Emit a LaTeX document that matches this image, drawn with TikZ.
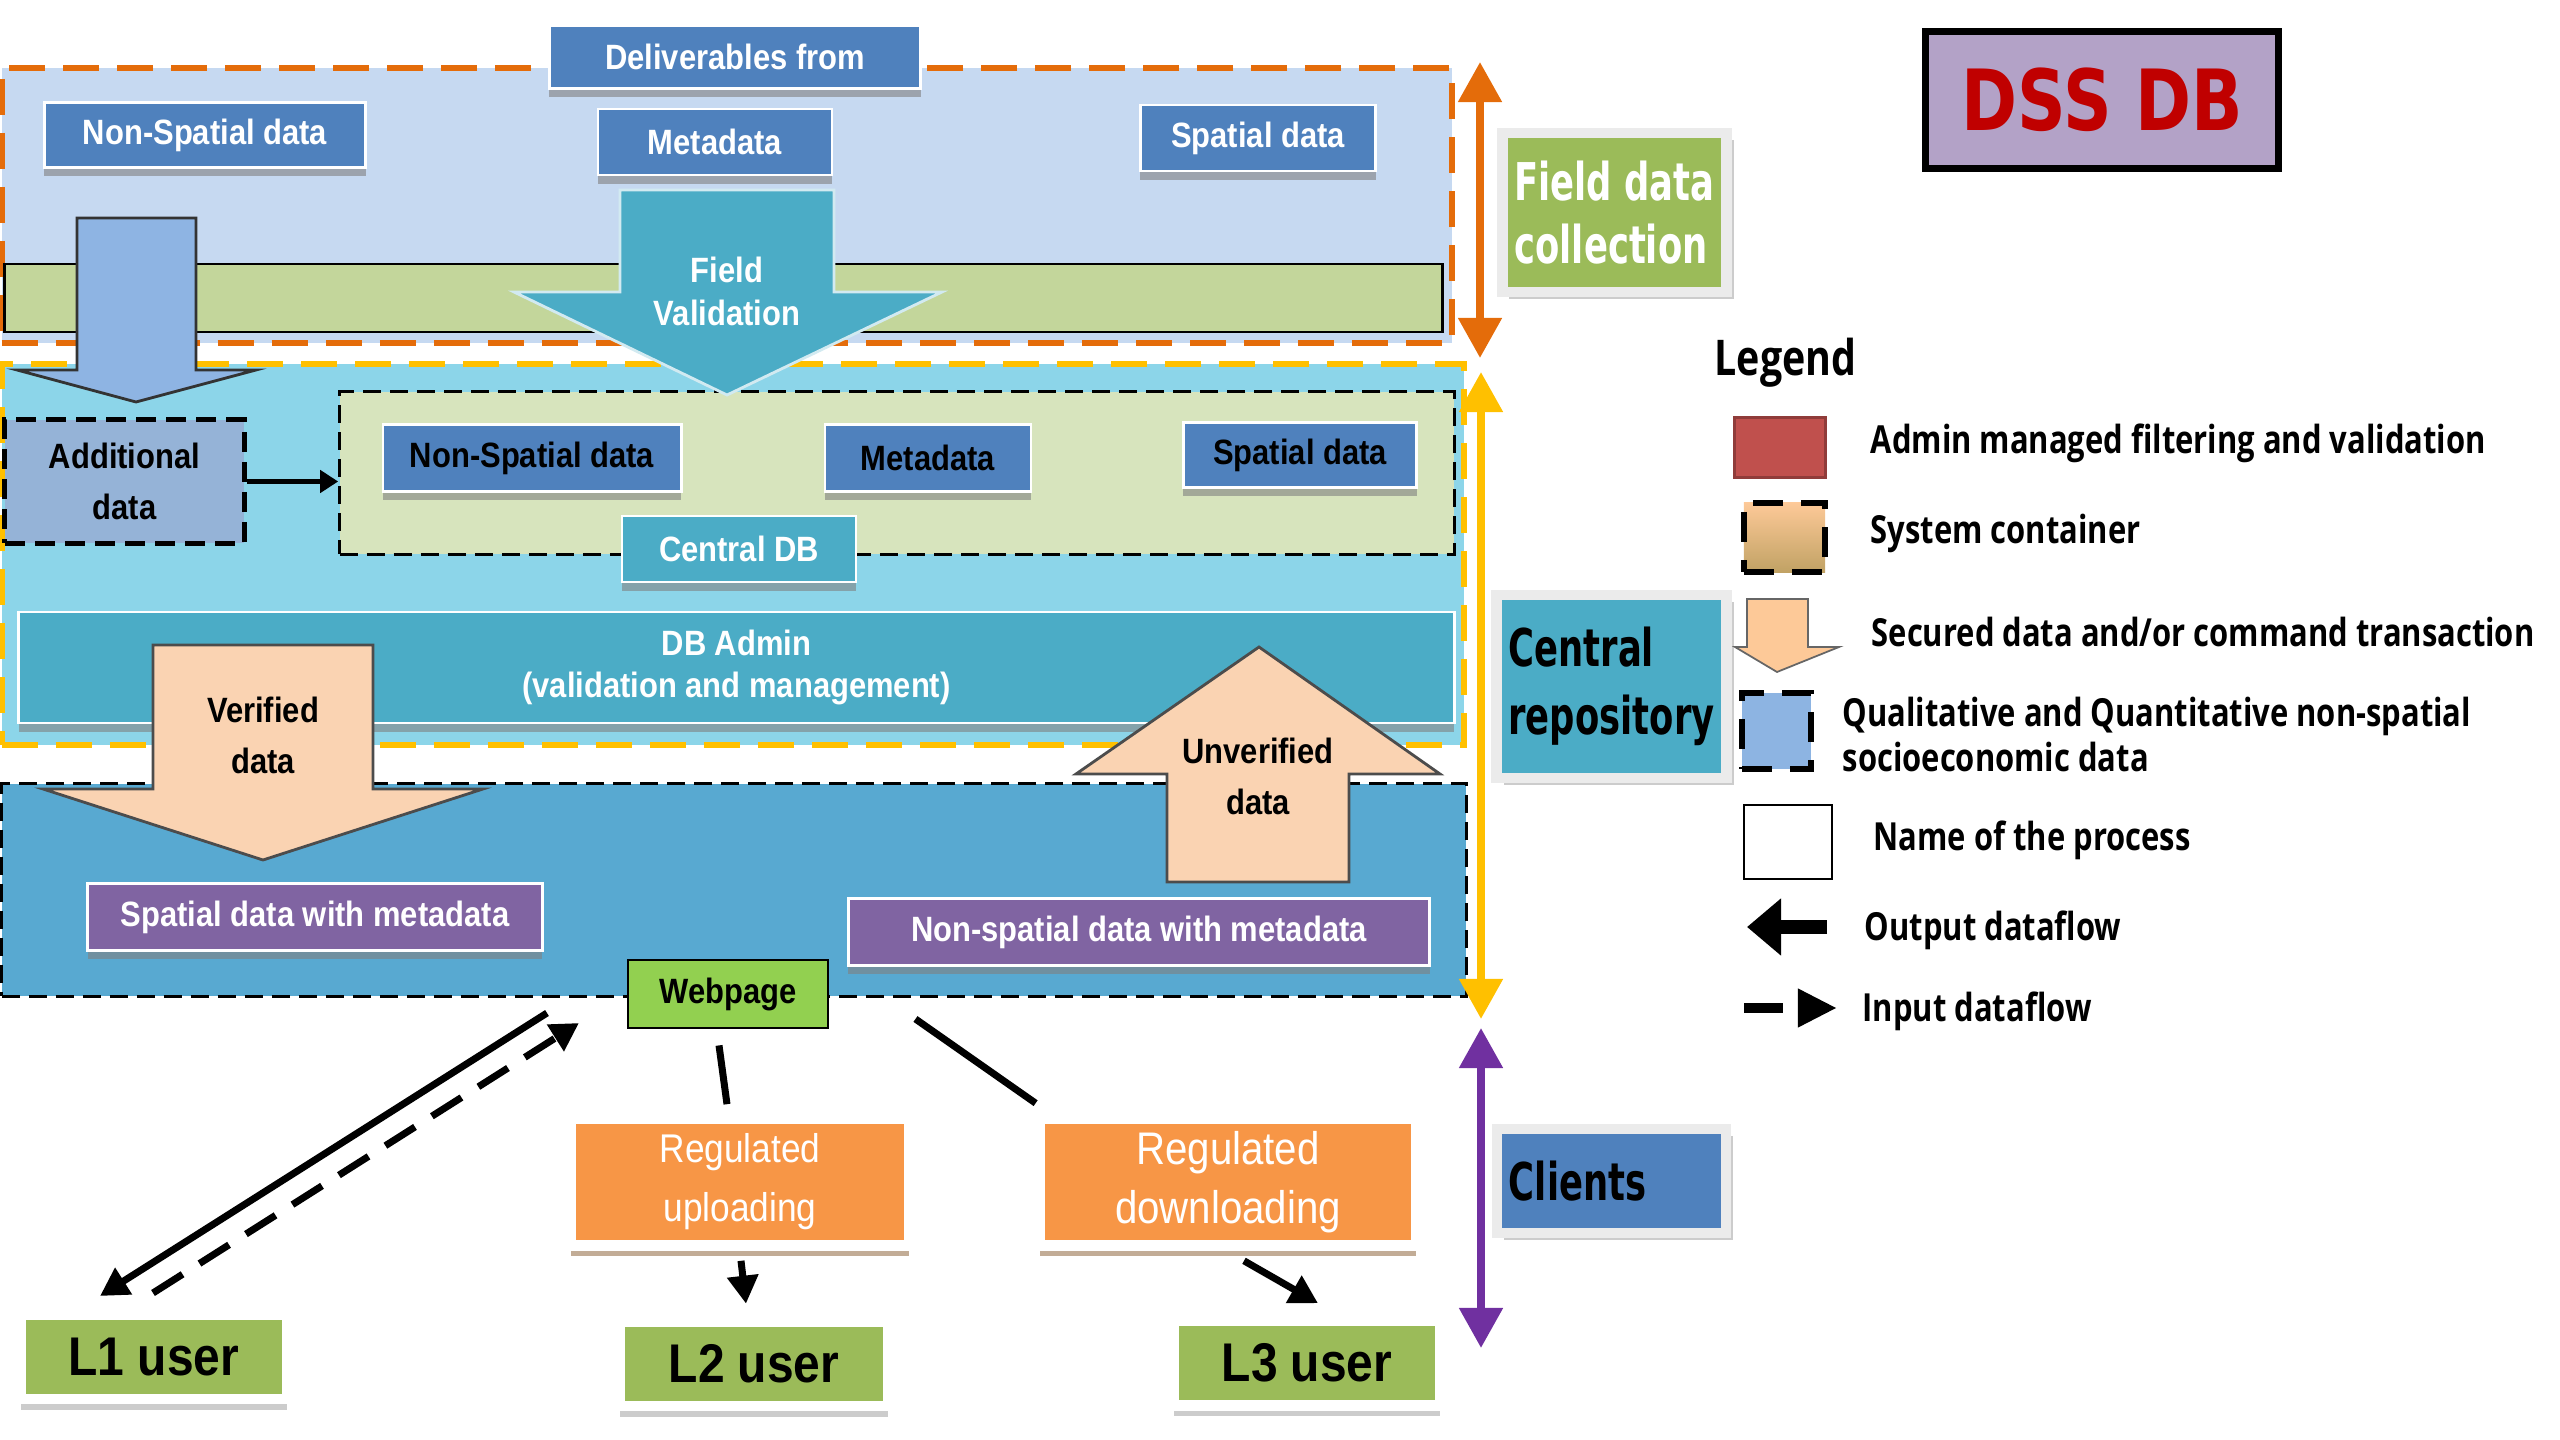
\documentclass[tikz,border=0pt]{standalone}
\usepackage{fontspec}
\setmainfont{Liberation Sans}
\newfontfamily\diagfont[FakeStretch=0.88]{Liberation Sans}
\newfontfamily\sidefont[FakeStretch=0.68]{DejaVu Sans}
\newfontfamily\dssfont[FakeStretch=0.8]{DejaVu Sans}
\newfontfamily\legendfont[FakeStretch=0.8]{Open Sans}
\usetikzlibrary{arrows.meta,shadows}

\definecolor{toparea}{HTML}{C6D9F1}
\definecolor{fieldorange}{HTML}{E46C0A}
\definecolor{midarea}{HTML}{8CD5E9}
\definecolor{repoyellow}{HTML}{FFC000}
\definecolor{lowarea}{HTML}{58A9D1}
\definecolor{datablue}{HTML}{4F81BD}
\definecolor{tealbox}{HTML}{4BACC6}
\definecolor{olivebar}{HTML}{C3D69B}
\definecolor{dbgreen}{HTML}{D7E4BD}
\definecolor{addblue}{HTML}{95B3D7}
\definecolor{arrowblue}{HTML}{8EB4E3}
\definecolor{peach}{HTML}{FAD3B2}
\definecolor{legendpeach}{HTML}{FDC998}
\definecolor{metapurple}{HTML}{8064A2}
\definecolor{webgreen}{HTML}{92D050}
\definecolor{procorange}{HTML}{F79646}
\definecolor{usergreen}{HTML}{9BBB59}
\definecolor{clientpurple}{HTML}{7030A0}
\definecolor{dsslilac}{HTML}{B3A2C7}
\definecolor{dssred}{HTML}{C00000}
\definecolor{adminred}{HTML}{C0504D}
\definecolor{qualblue}{HTML}{8DB4E2}

\newcommand{\boxfont}{\diagfont\bfseries\fontsize{10}{12}\selectfont}

\begin{document}
\begin{tikzpicture}[
    x=0.01cm, y=-0.01cm,
    area/.style={rectangle, inner sep=0pt, line width=0.06cm, dash pattern=on 0.36cm off 0.18cm},
    databox/.style={rectangle, draw=white, line width=0.8pt, fill=datablue, inner sep=0pt, font=\boxfont,
        drop shadow={shadow xshift=0pt, shadow yshift=-2.5pt, fill=black!50, opacity=0.6}},
    metabox/.style={databox, fill=metapurple, text=white},
    arrowtext/.style={align=center, font=\boxfont},
    procbox/.style={rectangle, draw=white, line width=3pt, fill=procorange, text=white, align=center, inner sep=0pt,
        drop shadow={shadow xshift=0pt, shadow yshift=-3pt, fill=brown!70!black, opacity=0.5}},
    userbox/.style={rectangle, draw=white, line width=3pt, fill=usergreen, inner sep=0pt,
        font=\diagfont\bfseries\fontsize{15.5}{18}\selectfont,
        drop shadow={shadow xshift=0pt, shadow yshift=-3pt, fill=black!40, opacity=0.5}},
    sidebox/.style={rectangle, draw=black!8, line width=3pt, inner xsep=0.12cm, inner ysep=0pt, align=left,
        font=\sidefont\bfseries\fontsize{14.8}{18}\selectfont,
        drop shadow={shadow xshift=2pt, shadow yshift=-2pt, fill=black!40, opacity=0.5}},
    sidearrow/.style={line width=0.08cm, {Triangle[width=0.42cm,length=0.4cm]}-{Triangle[width=0.42cm,length=0.4cm]}},
    link/.style={line width=0.07cm},
    outflow/.style={link, -{Triangle[width=0.3cm,length=0.28cm]}},
    inflow/.style={outflow, dash pattern=on 0.35cm off 0.2cm},
    legendtext/.style={anchor=west, align=left, inner xsep=0pt, font=\legendfont\bfseries\fontsize{11}{12.8}\selectfont},
    legendbox/.style={rectangle, inner sep=0pt, line width=0.06cm, dash pattern=on 0.3cm off 0.18cm}
]
\useasboundingbox (0,0) rectangle (2560,1440);

% Field data collection
\node[area, draw=fieldorange, fill=toparea, minimum width=14.5cm, minimum height=2.75cm] (fieldarea) at (727,205.5) {};
\node[databox, text=white, minimum width=3.71cm, minimum height=0.63cm] (deliv) at (735,57) {Deliverables from};
\node[databox, text=white, minimum width=3.21cm, minimum height=0.65cm] (fnonspatial) at (205,135) {Non-Spatial data};
\node[databox, text=white, minimum width=2.34cm, minimum height=0.66cm] (fmeta) at (715,142) {Metadata};
\node[databox, text=white, minimum width=2.35cm, minimum height=0.66cm] (fspatial) at (1258,138) {Spatial data};
\node[rectangle, draw=black, line width=0.8pt, fill=olivebar, minimum width=14.37cm, minimum height=0.68cm] (fieldbar) at (723.5,298) {};

% Central repository
\node[area, draw=repoyellow, fill=midarea, minimum width=14.62cm, minimum height=3.81cm] (repoarea) at (733,554.5) {};
\node[rectangle, draw=black, fill=dbgreen, line width=0.03cm, dash pattern=on 0.18cm off 0.09cm,
    minimum width=11.14cm, minimum height=1.62cm] (dbcontainer) at (897,473) {};

% block arrows into the repository
\draw[fill=arrowblue, draw=black!80, line width=0.8pt]
    (77,218) -- (196,218) -- (196,370) -- (256,370) -- (136,402) -- (17,370) -- (77,370) -- cycle;
\draw[fill=tealbox, draw=white!75!tealbox, line width=0.8pt]
    (620,190) -- (834,190) -- (834,292) -- (942,292) -- (727,395) -- (514,292) -- (620,292) -- cycle;
\node[arrowtext, text=white, font=\diagfont\bfseries\fontsize{10}{12.2}\selectfont] (fieldval) at (727,291) {Field\\Validation};

\node[rectangle, draw=black, fill=addblue, line width=0.05cm, dash pattern=on 0.2cm off 0.1cm,
    minimum width=2.39cm, minimum height=1.23cm, align=center,
    font=\diagfont\bfseries\fontsize{10}{14.5}\selectfont] (additional) at (124.5,481.5) {Additional\\data};
\draw[link, line width=0.05cm, -{Triangle[width=0.22cm,length=0.18cm]}] (additional.east) -- (additional.east -| dbcontainer.west);

\node[databox, text=black, minimum width=2.98cm, minimum height=0.67cm] (cnonspatial) at (532,458) {Non-Spatial data};
\node[databox, text=black, minimum width=2.06cm, minimum height=0.67cm] (cmeta) at (928,458) {Metadata};
\node[databox, text=black, minimum width=2.33cm, minimum height=0.65cm] (cspatial) at (1300,455) {Spatial data};
\node[databox, fill=tealbox, text=white, minimum width=2.34cm, minimum height=0.66cm] (centraldb) at (739,549) {Central DB};
\node[databox, fill=tealbox, text=white, align=center, minimum width=14.35cm, minimum height=1.11cm,
    font=\diagfont\bfseries\fontsize{10}{12}\selectfont] (dbadmin) at (736.5,667.5) {DB Admin\\(validation and management)};

% Clients area
\node[rectangle, draw=black, fill=lowarea, line width=0.03cm, dash pattern=on 0.18cm off 0.09cm,
    minimum width=14.64cm, minimum height=2.12cm] (clientarea) at (734,890) {};

\draw[fill=peach, draw=black!70, line width=0.8pt]
    (153,645) -- (373,645) -- (373,789) -- (483,789) -- (263,860) -- (43,789) -- (153,789) -- cycle;
\node[arrowtext, font=\diagfont\bfseries\fontsize{10}{14.5}\selectfont] (verified) at (263,735) {Verified\\data};
\draw[fill=peach, draw=black!70, line width=0.8pt]
    (1259,647) -- (1440,774) -- (1349,774) -- (1349,882) -- (1167,882) -- (1167,774) -- (1076,774) -- cycle;
\node[arrowtext, font=\diagfont\bfseries\fontsize{10}{14.5}\selectfont] (unverified) at (1258,776) {Unverified\\data};

\node[metabox, minimum width=4.54cm, minimum height=0.67cm] (spatialmeta) at (315,917) {Spatial data with metadata};
\node[metabox, minimum width=5.81cm, minimum height=0.67cm] (nonspatialmeta) at (1139,932) {Non-spatial data with metadata};
\node[rectangle, draw=black, line width=0.8pt, fill=webgreen, minimum width=2cm, minimum height=0.68cm,
    inner sep=0pt, font=\boxfont] (webpage) at (728,994) {Webpage};

% Processes and users
\node[procbox, minimum width=3.38cm, minimum height=1.27cm, font=\diagfont\fontsize{11.4}{16.8}\selectfont] (upload) at (740,1182) {Regulated\\uploading};
\node[procbox, minimum width=3.76cm, minimum height=1.27cm, font=\diagfont\fontsize{13}{16.8}\selectfont] (download) at (1228,1182) {Regulated\\downloading};
\node[userbox, minimum width=2.66cm, minimum height=0.84cm] (l1user) at (154,1357) {L1 user};
\node[userbox, minimum width=2.68cm, minimum height=0.84cm] (l2user) at (754,1364) {L2 user};
\node[userbox, minimum width=2.66cm, minimum height=0.85cm] (l3user) at (1307,1363) {L3 user};

% Dataflows
\coordinate (webout) at (547,1013);
\coordinate (l1in) at (100,1296);
\coordinate (l1out) at (153,1293);
\coordinate (webin) at (579,1023);
\draw[outflow] (webout) -- (l1in);
\draw[inflow] (l1out) -- (webin);
\draw[link] ([shift={(-9,16)}]webpage.south) -- ([shift={(-13,-9)}]upload.north);
\draw[outflow] ([shift={(1,10)}]upload.south) -- ([shift={(-8,-13)}]l2user.north);
\draw[link] ([shift={(86,25)}]webpage.east) -- ([shift={(1,-10)}]download.north west);
\draw[outflow] ([shift={(16,10)}]download.south) -- ([shift={(11,-12)}]l3user.north);

% Side labels
\coordinate (fieldtop) at (1480,62);
\coordinate (fieldbot) at (1480,358);
\coordinate (repotop) at (1481,372);
\coordinate (repobot) at (1481,1019);
\coordinate (clienttop) at (1481,1028);
\coordinate (clientbot) at (1481,1348);
\draw[sidearrow, fieldorange] (fieldtop) -- (fieldbot);
\draw[sidearrow, repoyellow] (repotop) -- (repobot);
\draw[sidearrow, clientpurple] (clienttop) -- (clientbot);
\node[sidebox, fill=usergreen, text=white, minimum width=2.23cm, minimum height=1.59cm] (fieldlabel) at (1614.5,212.5) {Field data\\collection};
\node[sidebox, fill=tealbox, text=black, minimum width=2.29cm, minimum height=1.83cm,
    font=\sidefont\bfseries\fontsize{14.8}{19.5}\selectfont] (repolabel) at (1611.5,686.5) {Central\\repository};
\node[sidebox, fill=datablue, text=black, text width=2.05cm, minimum height=1.04cm] (clientlabel) at (1611.5,1181) {Clients};

% Title
\node[rectangle, draw=black, line width=0.07cm, fill=dsslilac, minimum width=3.52cm, minimum height=1.36cm,
    text=dssred, font=\dssfont\bfseries\fontsize{24}{28}\selectfont] (dssdb) at (2102,100) {DSS DB};

% Legend
\node[legendtext, font=\legendfont\bfseries\fontsize{14}{16}\selectfont] (legend) at (1714,363) {Legend};
\node[rectangle, fill=adminred, draw=adminred!75!black, line width=0.03cm, minimum width=0.9cm, minimum height=0.59cm] (keyadmin) at (1780,447.5) {};
\node[legendtext] (txtadmin) at (1870,443) {Admin managed filtering and validation};
\node[legendbox, draw=black, top color=legendpeach, bottom color=olivebar!40!brown, minimum width=0.81cm, minimum height=0.69cm] (keysystem) at (1784.5,537.5) {};
\node[legendtext] (txtsystem) at (1870,533) {System container};
\draw[fill=legendpeach, draw=black!60, line width=0.5pt]
    (1747,599) -- (1808,599) -- (1808,647) -- (1839,647) -- (1777,672) -- (1735,647) -- (1747,647) -- cycle;
\node[legendtext] (txtsecured) at (1871,632) {Secured data and/or command transaction};
\node[legendbox, draw=black, fill=qualblue, minimum width=0.69cm, minimum height=0.76cm] (keyqual) at (1776.5,731) {};
\node[legendtext] (txtqual) at (1842,734.5) {Qualitative and Quantitative non-spatial\\socioeconomic data};
\node[rectangle, draw=black, line width=0.5pt, fill=white, minimum width=0.88cm, minimum height=0.74cm] (keyprocess) at (1788,842) {};
\node[legendtext] (txtprocess) at (1873,840) {Name of the process};
\coordinate (keyoutfrom) at (1827,927);
\coordinate (keyoutto) at (1747,927);
\draw[line width=0.14cm, -{Triangle[width=0.55cm,length=0.34cm]}] (keyoutfrom) -- (keyoutto);
\node[legendtext] (txtout) at (1864,930) {Output dataflow};
\coordinate (keyinfrom) at (1744,1008);
\coordinate (keyinto) at (1837,1008);
\draw[line width=0.1cm, dash pattern=on 0.39cm off 0.15cm, -{Triangle[width=0.36cm,length=0.39cm]}] (keyinfrom) -- (keyinto);
\node[legendtext] (txtin) at (1862,1011) {Input dataflow};

\end{tikzpicture}
\end{document}
